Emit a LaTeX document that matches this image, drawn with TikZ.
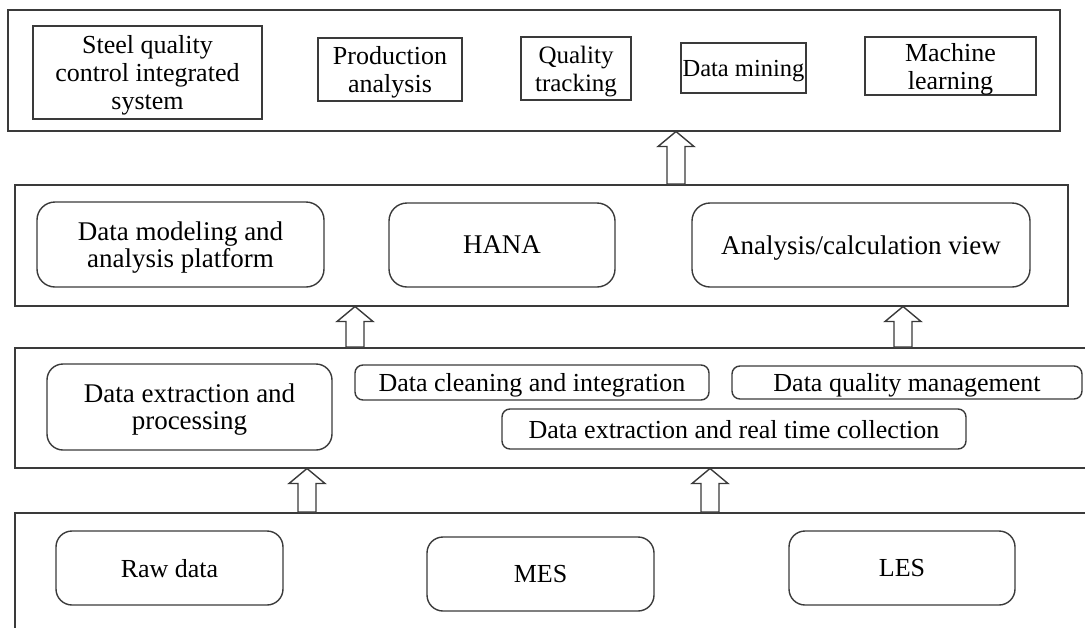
\documentclass[tikz,border=0pt]{standalone}
\usepackage{fontspec}
\setmainfont{Liberation Serif}
\usetikzlibrary{calc}
\definecolor{ln}{HTML}{3A3A3A}
\tikzset{
  every node/.style={font=\fontsize{26}{28}\selectfont, align=center, inner sep=0pt, text depth=0pt},
  fs24/.style={font=\fontsize{24.5}{27}\selectfont},
  fs27/.style={font=\fontsize{27}{27}\selectfont},
  layer/.style={draw=ln, line width=1.5pt, rectangle, anchor=north west},
  sqbox/.style={draw=ln, line width=1.4pt, rectangle},
  rbox/.style={draw=ln, line width=1.4pt, rectangle, rounded corners=16pt},
  rsmall/.style={draw=ln, line width=1.4pt, rectangle, rounded corners=8pt},
  barrow/.style={draw=ln, line width=1.4pt, fill=white, line join=miter},
}
\begin{document}
\begin{tikzpicture}[x=1pt,y=-1pt]
\useasboundingbox (0,0) rectangle (1085,627);
\clip (0,0) rectangle (1085,627);
% layers
\node[layer, minimum width=1052pt, minimum height=121pt] (L1) at (7,9) {};
\node[layer, minimum width=1053pt, minimum height=121pt] (L2) at (14,184) {};
\node[layer, minimum width=1090pt, minimum height=120pt] (L3) at (14,347) {};
\node[layer, minimum width=1090pt, minimum height=140pt] (L4) at (14,512) {};
% layer 1
\node[sqbox, minimum width=229pt, minimum height=93pt] (steel) at (147.5,72.5) {Steel quality\\control integrated\\system};
\node[sqbox, minimum width=144pt, minimum height=63pt] (prod) at (390,69.5) {Production\\analysis};
\node[sqbox, font=\fontsize{25}{28}\selectfont, minimum width=110pt, minimum height=63pt] (qt) at (576,68.5) {Quality\\tracking};
\node[sqbox, fs24, minimum width=125pt, minimum height=50pt] (dm) at (743.5,68) {Data mining};
\node[sqbox, minimum width=171pt, minimum height=58pt] (ml) at (950.5,66) {Machine\\learning};
% layer 2
\node[rbox, fs27, rounded corners=18pt, minimum width=287pt, minimum height=85pt] (dmap) at (180.5,244.5) {Data modeling and\\analysis platform};
\node[rbox, fs27, rounded corners=18pt, minimum width=226pt, minimum height=84pt] (hana) at (502,245) {HANA};
\node[rbox, fs27, rounded corners=18pt, minimum width=338pt, minimum height=84pt] (acv) at (861,245) {Analysis/calculation view};
% layer 3
\node[rbox, fs27, minimum width=285pt, minimum height=86pt] (dep) at (189.5,407) {Data extraction and\\processing};
\node[rsmall, minimum width=354pt, minimum height=35pt] (dci) at (532,382.5) {Data cleaning and integration};
\node[rsmall, minimum width=350pt, minimum height=33pt] (dqm) at (907,382.5) {Data quality management};
\node[rsmall, minimum width=464pt, minimum height=40pt] (dert) at (734,429) {Data extraction and real time collection};
% layer 4
\node[rbox, minimum width=227pt, minimum height=74pt] (raw) at (169.5,568) {Raw data};
\node[rbox, minimum width=227pt, minimum height=74pt] (mes) at (540.5,574) {MES};
\node[rbox, minimum width=226pt, minimum height=74pt] (les) at (902,568) {LES};
% arrow positions
\coordinate (xa) at (676,0);
\coordinate (xb) at (355,0);
\coordinate (xc) at (903,0);
\coordinate (xd) at (307,0);
\coordinate (xe) at (710,0);
\foreach \xx/\lo/\hi in {xa/L2/L1, xb/L3/L2, xc/L3/L2, xd/L4/L3, xe/L4/L3}{
  \coordinate (b) at (\xx |- \lo.north);
  \coordinate (t) at (\xx |- \hi.south);
  \draw[barrow] ($(b)+(-9,0)$) -- ($(t)+(-9,15)$) -- ($(t)+(-18,15)$) -- (t)
     -- ($(t)+(18,15)$) -- ($(t)+(9,15)$) -- ($(b)+(9,0)$) -- cycle;
}
\end{tikzpicture}
\end{document}
